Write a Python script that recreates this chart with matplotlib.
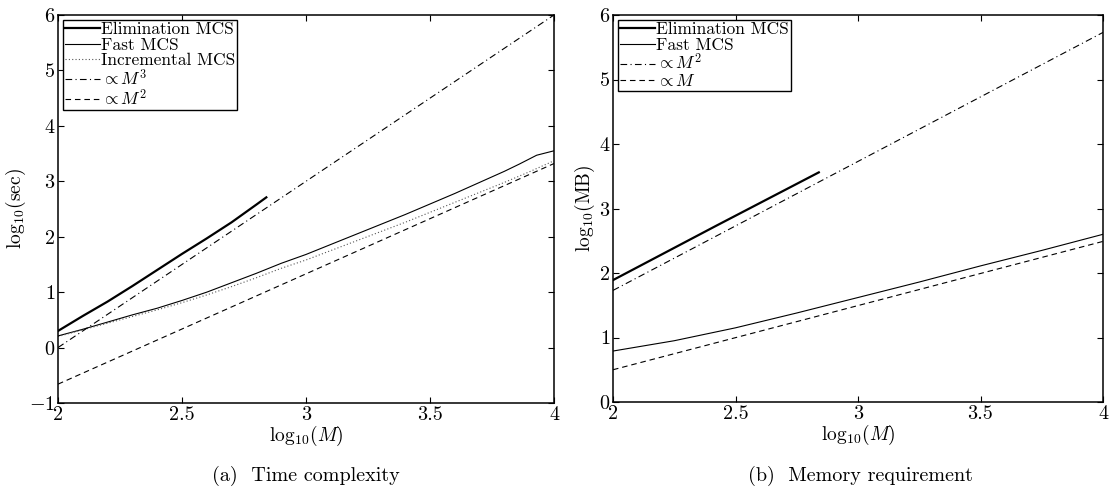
import matplotlib
matplotlib.use("Agg")
import matplotlib.pyplot as plt

plt.rcParams['font.family'] = ['cmr10', 'DejaVu Serif']
plt.rcParams['mathtext.fontset'] = 'cm'
plt.rcParams['axes.formatter.use_mathtext'] = True

# ---- (a) time complexity: log10(sec) vs log10(M)
elim_t_x = [2.0, 2.1, 2.2, 2.3, 2.4, 2.5, 2.6, 2.7, 2.8, 2.84]
elim_t_y = [0.30, 0.57, 0.83, 1.11, 1.40, 1.69, 1.97, 2.26, 2.58, 2.71]

fast_t_x = [2.0, 2.1, 2.2, 2.3, 2.4, 2.5, 2.6, 2.7, 2.8, 2.9, 3.0, 3.1, 3.2,
            3.3, 3.4, 3.5, 3.6, 3.7, 3.8, 3.86, 3.93, 4.0]
fast_t_y = [0.21, 0.33, 0.46, 0.59, 0.71, 0.85, 1.00, 1.17, 1.34, 1.52, 1.68,
            1.86, 2.04, 2.22, 2.40, 2.59, 2.78, 2.98, 3.18, 3.31, 3.47, 3.55]

incr_t_x = [2.0, 2.1, 2.2, 2.3, 2.4, 2.5, 2.6, 2.7, 2.8, 2.9, 3.0, 3.1, 3.2,
            3.3, 3.4, 3.5, 3.6, 3.7, 3.8, 3.9, 4.0]
incr_t_y = [0.20, 0.32, 0.44, 0.56, 0.68, 0.81, 0.95, 1.10, 1.26, 1.43, 1.58,
            1.75, 1.92, 2.09, 2.26, 2.44, 2.62, 2.80, 2.98, 3.17, 3.37]

ref_x = [2.0, 4.0]
m3_t_y = [0.0, 6.0]
m2_t_y = [-0.66, 3.32]

# ---- (b) memory requirement: log10(MB) vs log10(M)
elim_m_x = [2.0, 2.42, 2.84]
elim_m_y = [1.89, 2.73, 3.56]

fast_m_x = [2.0, 2.25, 2.5, 2.75, 3.0, 3.25, 3.5, 3.75, 4.0]
fast_m_y = [0.79, 0.95, 1.15, 1.38, 1.62, 1.86, 2.11, 2.35, 2.60]

m2_m_y = [1.73, 5.73]
m1_m_y = [0.50, 2.49]

x_ticks = [2, 2.5, 3, 3.5, 4]
x_ticklabels = ['2', '2.5', '3', '3.5', '4']

DASH = (0, (5, 3.5))
DASHDOT = (0, (6, 3, 1, 3))
DOT = (0, (1, 2))

fig = plt.figure(figsize=(11.14, 4.95), dpi=100)
ax1 = fig.add_axes([58 / 1114, 1 - 403 / 495, 496 / 1114, 388 / 495])
ax2 = fig.add_axes([613 / 1114, 1 - 402 / 495, 490 / 1114, 387 / 495])


def style_axes(ax, ylabel, ylim):
    ax.set_xlim(2, 4)
    ax.set_ylim(*ylim)
    ax.set_xticks(x_ticks)
    ax.set_xticklabels(x_ticklabels)
    ax.set_yticks(range(int(ylim[0]), int(ylim[1]) + 1))
    ax.tick_params(direction='in', top=True, right=True, length=4,
                   width=0.8, labelsize=14.5, pad=2)
    for s in ax.spines.values():
        s.set_linewidth(1.1)
    ax.set_xlabel(r'$\mathrm{log}_{10}(M)$', fontsize=14, labelpad=0)
    ax.set_ylabel(ylabel, fontsize=14, labelpad=1)


# panel (a)
ax1.plot(elim_t_x, elim_t_y, color='black', lw=1.6, label='Elimination MCS')
ax1.plot(fast_t_x, fast_t_y, color='black', lw=0.8, label='Fast MCS')
ax1.plot(incr_t_x, incr_t_y, color='#555555', lw=0.8, ls=DOT, label='Incremental MCS')
ax1.plot(ref_x, m3_t_y, color='black', lw=0.8, ls=DASHDOT, label=r'$\propto M^3$')
ax1.plot(ref_x, m2_t_y, color='black', lw=0.8, ls=DASH, label=r'$\propto M^2$')
style_axes(ax1, r'$\mathrm{log}_{10}(\mathrm{sec})$', (-1, 6))

# panel (b)
ax2.plot(elim_m_x, elim_m_y, color='black', lw=1.6, label='Elimination MCS')
ax2.plot(fast_m_x, fast_m_y, color='black', lw=0.8, label='Fast MCS')
ax2.plot(ref_x, m2_m_y, color='black', lw=0.8, ls=DASHDOT, label=r'$\propto M^2$')
ax2.plot(ref_x, m1_m_y, color='black', lw=0.8, ls=DASH, label=r'$\propto M$')
style_axes(ax2, r'$\mathrm{log}_{10}(\mathrm{MB})$', (0, 6))

for ax in (ax1, ax2):
    leg = ax.legend(loc='upper left', fontsize=12.5, frameon=True, fancybox=False,
                    edgecolor='black', framealpha=1, borderpad=0.1,
                    labelspacing=0.0, handlelength=2.0, handletextpad=0.1,
                    borderaxespad=0.3)
    leg.get_frame().set_linewidth(1.0)

fig.text(306 / 1114, 1 - 476 / 495, '(a)  Time complexity', ha='center',
         va='center', fontsize=14.5)
fig.text(860 / 1114, 1 - 476 / 495, '(b)  Memory requirement', ha='center',
         va='center', fontsize=14.5)

fig.savefig('out.png', dpi=100, facecolor='white')
